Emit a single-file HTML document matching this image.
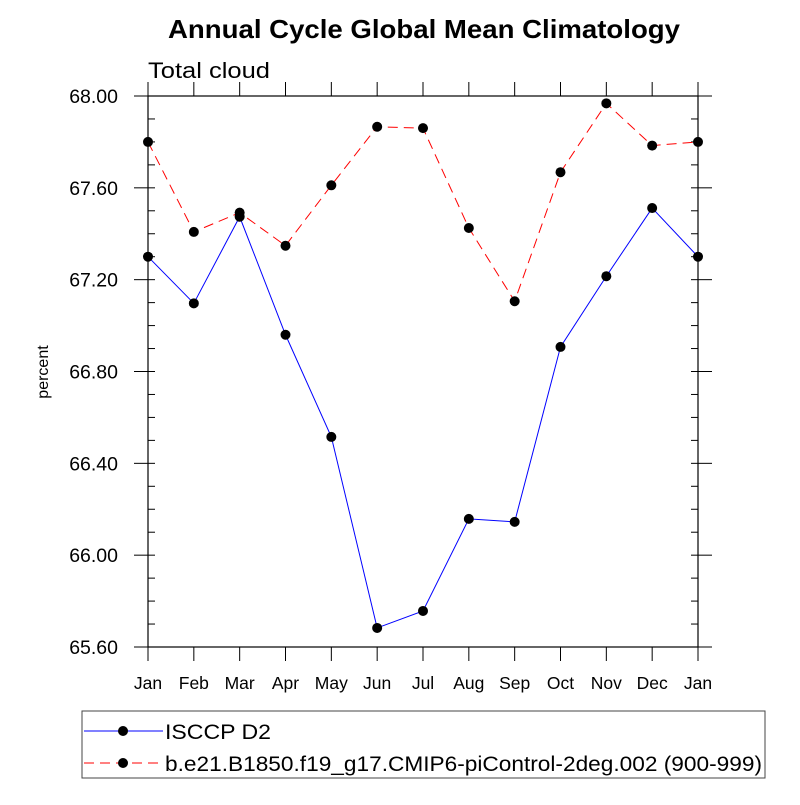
<!DOCTYPE html>
<html><head><meta charset="utf-8"><style>
body{margin:0;background:#fff;}
svg text{font-family:"Liberation Sans",Arial,sans-serif;}
</style></head><body>
<svg id="chart" width="800" height="800" xmlns="http://www.w3.org/2000/svg">
<text x="168" y="38" font-size="26" font-weight="bold" textLength="512" lengthAdjust="spacingAndGlyphs">Annual Cycle Global Mean Climatology</text>
<text x="148" y="78" font-size="22" textLength="122" lengthAdjust="spacingAndGlyphs">Total cloud</text>
<text transform="translate(48,372) rotate(-90)" text-anchor="middle" font-size="16">percent</text>
<g id="axes"></g>
<g id="series"></g>
<g>
<rect x="82" y="711" width="683" height="67" fill="none" stroke="#444" stroke-width="1"/>
<g>
<line x1="84" y1="731" x2="163" y2="731" stroke="#00f" stroke-width="1"/>
<circle cx="123" cy="731" r="5" fill="#000"/>
<text x="165" y="739" font-size="21" textLength="106" lengthAdjust="spacingAndGlyphs">ISCCP D2</text>
</g>
<g>
<line x1="84" y1="763" x2="163" y2="763" stroke="#f00" stroke-width="1" stroke-dasharray="10,6"/>
<circle cx="123" cy="763" r="5" fill="#000"/>
<text x="165" y="771" font-size="21" textLength="597" lengthAdjust="spacingAndGlyphs">b.e21.B1850.f19_g17.CMIP6-piControl-2deg.002 (900-999)</text>
</g>
</g>
</svg>
<script>
const months = ["Jan","Feb","Mar","Apr","May","Jun","Jul","Aug","Sep","Oct","Nov","Dec","Jan"];
const isccp = [67.30,67.097,67.474,66.96,66.515,65.683,65.757,66.158,66.145,66.907,67.215,67.512,67.30];
const model = [67.80,67.408,67.492,67.348,67.611,67.866,67.86,67.425,67.106,67.668,67.968,67.784,67.80];
const yTicks = [65.6,66.0,66.4,66.8,67.2,67.6,68.0];
const yMin = 65.6, yMax = 68.0;
const L=148,R=698,T=96,B=647;
const NS="http://www.w3.org/2000/svg";
const xs = i => L + (R-L)*i/(months.length-1);
const ys = v => B - (B-T)*(v-yMin)/(yMax-yMin);
function mk(tag, attrs, parent){const e=document.createElementNS(NS,tag);for(const k in attrs)e.setAttribute(k,attrs[k]);parent.appendChild(e);return e;}
const ax=document.getElementById('axes');
const frame=mk('rect',{x:L,y:T,width:R-L,height:B-T,fill:'none',stroke:'#000','stroke-width':1.2},ax);


months.forEach((m,i)=>{
  const x=xs(i);
  mk('line',{x1:x,y1:B,x2:x,y2:B+14,stroke:'#000'},ax);
  mk('line',{x1:x,y1:T,x2:x,y2:T-14,stroke:'#000'},ax);
  const t=mk('text',{x:x,y:689,'text-anchor':'middle','font-size':17.5},ax);
  t.textContent=m;
  
  
});
for(let v=yMin; v<=yMax+1e-9; v+=0.1){
  const y=ys(v);
  mk('line',{x1:L,y1:y,x2:L+7,y2:y,stroke:'#000'},ax);
  mk('line',{x1:R,y1:y,x2:R-7,y2:y,stroke:'#000'},ax);
}
yTicks.forEach(v=>{
  const y=ys(v);
  mk('line',{x1:L,y1:y,x2:L-14,y2:y,stroke:'#000'},ax);
  mk('line',{x1:R,y1:y,x2:R+14,y2:y,stroke:'#000'},ax);
  const t=mk('text',{x:118,y:y+7,'text-anchor':'end','font-size':19.5},ax);
  t.textContent=v.toFixed(2);
  
  
});
const sg=document.getElementById('series');
function drawSeries(vals,color,dash,name){
  const g=mk('g',{},sg);
  
  
  const pts=vals.map((v,i)=>xs(i)+','+ys(v)).join(' ');
  const attrs={points:pts,fill:'none',stroke:color,'stroke-width':1};
  if(dash)attrs['stroke-dasharray']=dash;
  mk('polyline',attrs,g);
  vals.forEach((v,i)=>{
    const c=mk('circle',{cx:xs(i),cy:ys(v),r:5,fill:'#000'},g);
    
    
  });
}
drawSeries(model,'#f00','10,6','series-model');
drawSeries(isccp,'#00f',null,'series-isccp');
</script>
</body></html>
